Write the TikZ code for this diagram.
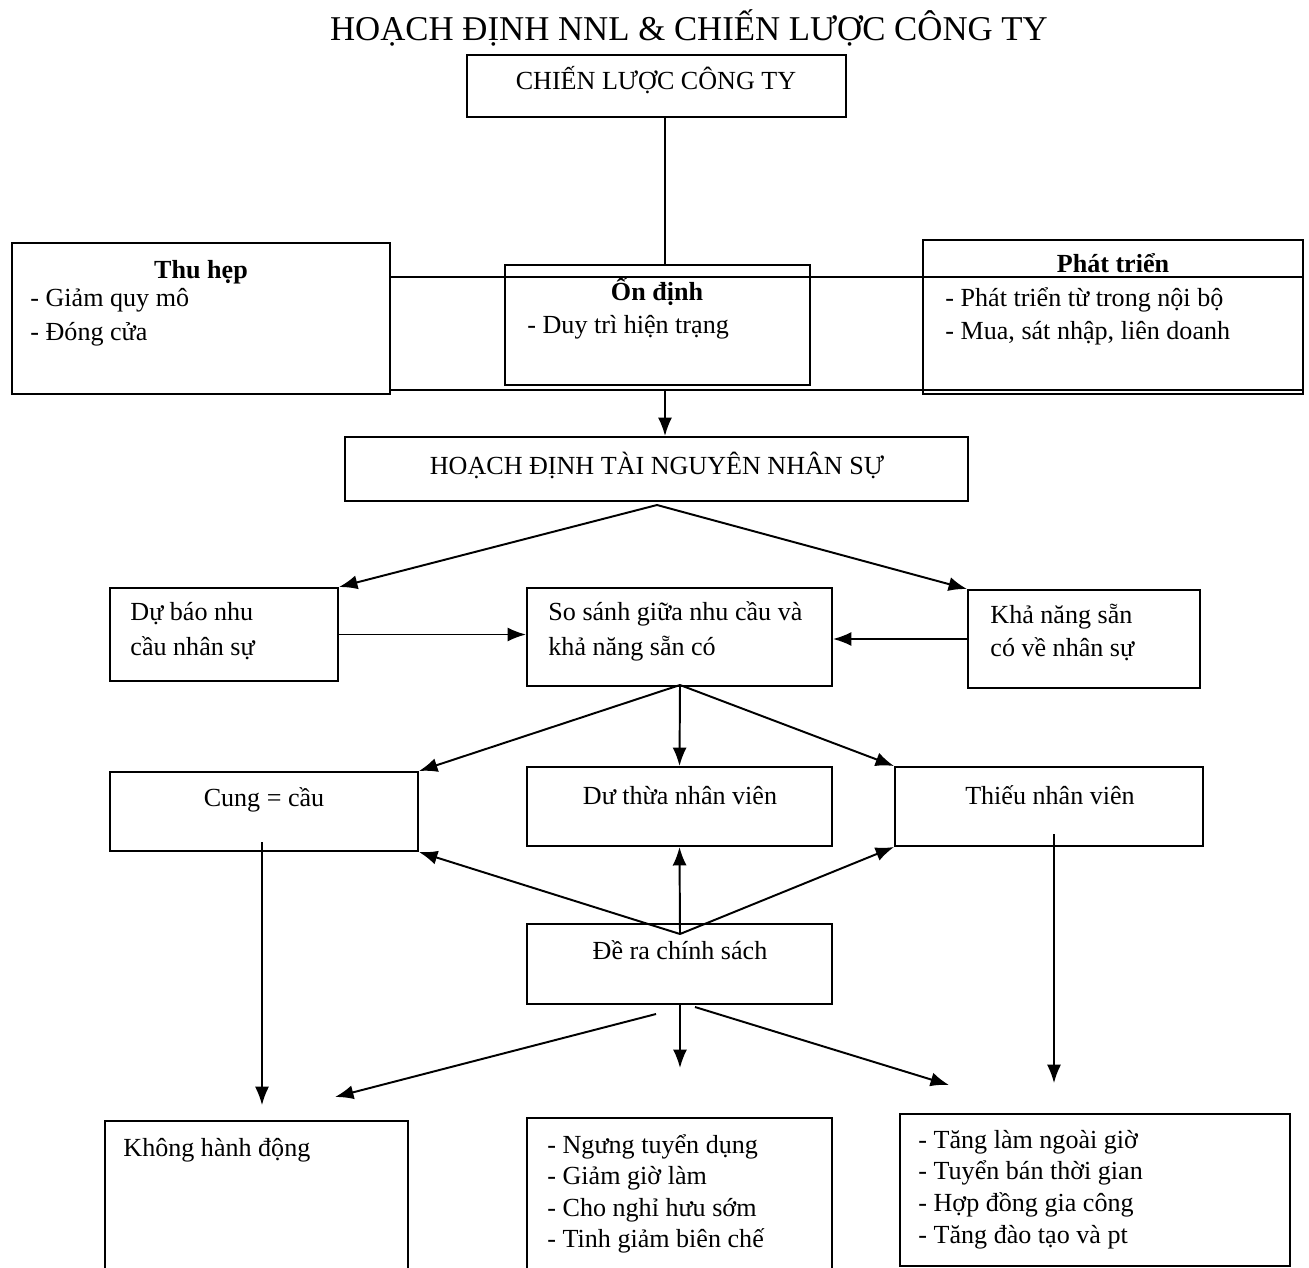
\documentclass[tikz,border=0pt]{standalone}
\usepackage{fontspec}
\setmainfont{Liberation Serif}
\usepackage{tikz}
\usetikzlibrary{arrows.meta,fit,positioning}

\tikzset{
  box/.style={draw, line width=0.9pt, inner sep=0pt},
  txt/.style={inner sep=0pt, anchor=base west, font=\fontsize{12}{14}\selectfont},
  ctxt/.style={txt, anchor=base},
  bld/.style={ctxt, font=\fontsize{12}{14}\selectfont\bfseries},
  arr/.style={line width=0.9pt, -{Latex[length=8.5pt, width=6.5pt]}},
  ln/.style={line width=0.9pt},
}

\begin{document}
\begin{tikzpicture}[x=0.46pt, y=-0.46pt]

\useasboundingbox (0,0) rectangle (1309,1268);

  % title
  \node[ctxt, font=\fontsize{16}{19}\selectfont] (title) at (689,40) {HOẠCH ĐỊNH NNL \& CHIẾN LƯỢC CÔNG TY}; %
  \node[box, fit={(467,55)(846,117)}] (cl) {}; %
  \node[ctxt] (cl-t) at (656,89) {CHIẾN LƯỢC CÔNG TY}; %

  % strategies
  \node[box, fill=white, fit={(12,243)(390,394)}] (thu) {}; %
  \node[bld] (thu-h) at (201,278) {Thu hẹp}; %
  \node[txt] (thu-1) at (30,306) {- Giảm quy mô}; %
  \node[txt] (thu-2) at (30,340) {- Đóng cửa}; %

  \node[box, fit={(505,265)(810,385)}] (on) {}; %
  \node[bld] (on-h) at (657,300) {Ổn định}; %
  \node[txt] (on-1) at (527,333) {- Duy trì hiện trạng}; %

  \node[box, fit={(923,240)(1303,394)}] (phat) {}; %
  \node[bld] (phat-h) at (1113,272) {Phát triển}; %
  \node[txt] (phat-1) at (945,306) {- Phát triển từ trong nội bộ}; %
  \node[txt] (phat-2) at (945,339) {- Mua, sát nhập, liên doanh}; %

  % band behind the three strategies
  \coordinate (band-t) at (0,277); %
  \coordinate (band-b) at (0,390); %
  \coordinate (stem) at (665,0); %
  \draw[ln] (thu.east |- band-t) -- (phat.east |- band-t); %
  \draw[ln] (thu.east |- band-b) -- (phat.east |- band-b); %

  % HR planning
  \node[box, fit={(345,437)(968,501)}] (hd) {}; %
  \node[ctxt] (hd-t) at (657,474) {HOẠCH ĐỊNH TÀI NGUYÊN NHÂN SỰ}; %

  \node[box, fit={(110,588)(338,681)}] (dubao) {}; %
  \node[txt] (dubao-1) at (130,620) {Dự báo nhu}; %
  \node[txt] (dubao-2) at (130,655) {cầu nhân sự}; %

  \node[box, fit={(527,588)(832,686)}] (sosanh) {}; %
  \node[txt] (sosanh-1) at (548,620) {So sánh giữa nhu cầu và}; %
  \node[txt] (sosanh-2) at (548,655) {khả năng sẵn có}; %

  \node[box, fit={(968,590)(1200,688)}] (kha) {}; %
  \node[txt] (kha-1) at (990,623) {Khả năng sẵn}; %
  \node[txt] (kha-2) at (990,656) {có về nhân sự}; %

  % outcomes
  \node[box, fit={(110,772)(418,851)}] (cung) {}; %
  \node[ctxt] (cung-t) at (264,806) {Cung = cầu}; %
  \node[box, fit={(527,767)(832,846)}] (du) {}; %
  \node[ctxt] (du-t) at (680,804) {Dư thừa nhân viên}; %
  \node[box, fit={(895,767)(1203,846)}] (thieu) {}; %
  \node[ctxt] (thieu-t) at (1050,804) {Thiếu nhân viên}; %

  \node[box, fit={(527,924)(832,1004)}] (dera) {}; %
  \node[ctxt] (dera-t) at (680,959) {Đề ra chính sách}; %

  % actions
  \node[box, fit={(105,1121)(408,1290)}] (khong) {}; %
  \node[txt] (khong-1) at (123,1156) {Không hành động}; %

  \node[box, fit={(527,1118)(832,1290)}] (ngung) {}; %
  \node[txt] (ngung-1) at (547,1153) {- Ngưng tuyển dụng}; %
  \node[txt] (ngung-2) at (547,1184) {- Giảm giờ làm}; %
  \node[txt] (ngung-3) at (547,1216) {- Cho nghỉ hưu sớm}; %
  \node[txt] (ngung-4) at (547,1247) {- Tinh giảm biên chế}; %

  \node[box, fit={(900,1114)(1290,1266)}] (tang) {}; %
  \node[txt] (tang-1) at (918,1148) {- Tăng làm ngoài giờ}; %
  \node[txt] (tang-2) at (918,1179) {- Tuyển bán thời  gian}; %
  \node[txt] (tang-3) at (918,1211) {- Hợp đồng gia công}; %
  \node[txt] (tang-4) at (918,1243) {- Tăng đào tạo và pt}; %

  % free ends
  \coordinate (hd-o) at (657,505); %
  \coordinate (ss-o) at (680,685); %
  \coordinate (dr-i) at (680,934); %
  \coordinate (cung-o) at (262,842); %
  \coordinate (cung-e) at (262,1105); %
  \coordinate (thieu-o) at (1054,834); %
  \coordinate (thieu-e) at (1054,1083); %
  \coordinate (dr-l) at (656,1014); %
  \coordinate (dr-le) at (335,1097); %
  \coordinate (dr-me) at (680,1068); %
  \coordinate (dr-r) at (695,1007); %
  \coordinate (dr-re) at (949,1085); %

  % connectors
  \draw[ln] (stem |- cl.south) -- (stem |- on.north); %
  \draw[arr] (stem |- band-b) -- (stem |- hd.north); %
  \draw[arr] (hd-o) -- (dubao.north east); %
  \draw[arr] (hd-o) -- (kha.north west); %
  \draw[arr] (dubao.east) -- (dubao.east -| sosanh.west); %
  \draw[arr] (kha.west) -- (kha.west -| sosanh.east); %
  \draw[arr] (ss-o) -- (cung.north east); %
  \draw[arr] (ss-o) -- (du.north); %
  \draw[arr] (ss-o) -- (thieu.north west); %
  \draw[arr] (dr-i) -- (cung.south east); %
  \draw[arr] (dr-i) -- (du.south); %
  \draw[arr] (dr-i) -- (thieu.south west); %
  \draw[arr, line width=0.7pt] (cung-o) -- (cung-e); %
  \draw[arr, line width=0.7pt] (thieu-o) -- (thieu-e); %
  \draw[arr] (dr-l) -- (dr-le); %
  \draw[arr] (dera.south -| dr-me) -- (dr-me); %
  \draw[arr] (dr-r) -- (dr-re); %

\end{tikzpicture}
\end{document}
